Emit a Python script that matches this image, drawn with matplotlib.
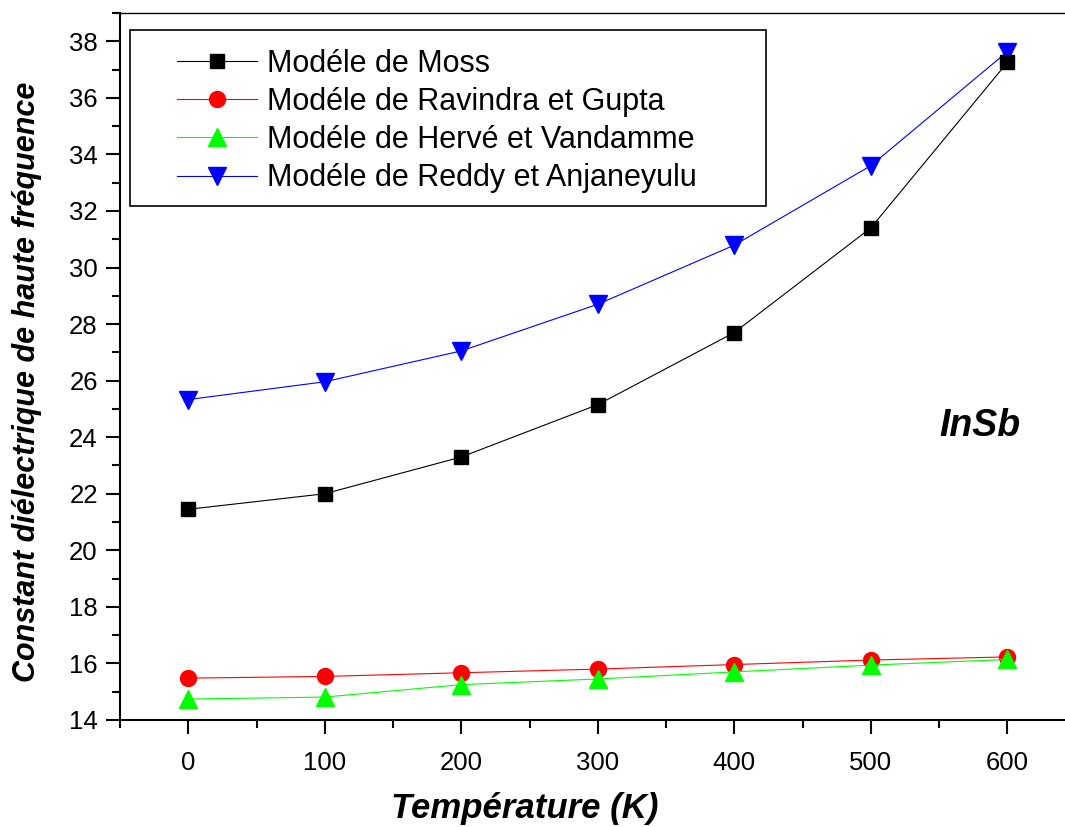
import matplotlib
matplotlib.use('Agg')
import matplotlib.pyplot as plt
from matplotlib.patches import Rectangle
from matplotlib.ticker import MultipleLocator

plt.rcParams['font.family'] = ['Liberation Sans', 'DejaVu Sans']

temperature = [0, 100, 200, 300, 400, 500, 600]
moss = [21.45, 22.0, 23.3, 25.15, 27.7, 31.4, 37.25]
ravindra_gupta = [15.48, 15.54, 15.67, 15.8, 15.96, 16.12, 16.23]
herve_vandamme = [14.74, 14.81, 15.25, 15.45, 15.7, 15.94, 16.14]
reddy_anjaneyulu = [25.33, 25.96, 27.05, 28.7, 30.79, 33.6, 37.63]

labels = ['Modéle de Moss', 'Modéle de Ravindra et Gupta',
          'Modéle de Hervé et Vandamme', 'Modéle de Reddy et Anjaneyulu']

fig = plt.figure(figsize=(10.65, 8.27), dpi=100)
ax = fig.add_axes([0.1127, 0.1294, 0.8972, 0.8549])

ax.plot(temperature, moss, color='black', lw=0.8, marker='s', ms=10,
        label=labels[0], zorder=5)
ax.plot(temperature, ravindra_gupta, color='red', lw=0.8, marker='o', ms=11.5,
        label=labels[1], zorder=3)
ax.plot(temperature, herve_vandamme, color='#00FF00', lw=0.8, marker='^', ms=13,
        label=labels[2], zorder=4)
ax.plot(temperature, reddy_anjaneyulu, color='blue', lw=0.8, marker='v', ms=13,
        label=labels[3], zorder=3)

ax.set_xlim(-50, 650)
ax.set_ylim(14, 39)
ax.xaxis.set_major_locator(MultipleLocator(100))
ax.xaxis.set_minor_locator(MultipleLocator(50))
ax.yaxis.set_major_locator(MultipleLocator(2))
ax.yaxis.set_minor_locator(MultipleLocator(1))
ax.tick_params(which='major', direction='out', length=10, width=1.5,
               labelsize=18.5, pad=6)
ax.tick_params(which='minor', direction='out', length=5.5, width=1.5)
ax.tick_params(axis='x', which='major', pad=12)
for s in ax.spines.values():
    s.set_linewidth(1.5)
ax.spines['top'].set_linewidth(1.0)

ax.set_xlabel('Température (K)', fontsize=25, fontweight='bold',
              fontstyle='italic', va='center')
ax.xaxis.set_label_coords(0.424, -0.1245)
ax.set_ylabel('Constant diélectrique de haute fréquence', fontsize=22,
              fontweight='bold', fontstyle='italic', va='center')
ax.yaxis.set_label_coords(-0.097, 0.478)

ax.text(580, 24.4, 'InSb', fontsize=27, fontweight='bold', fontstyle='italic',
        ha='center', va='center')

# legend entries without frame, box drawn separately for wider side margins
leg = ax.legend(loc='upper left', bbox_to_anchor=(0.0597, 0.9495), fontsize=22,
                frameon=False, handlelength=2.6, handletextpad=0.35,
                labelspacing=0.27, borderpad=0.0, borderaxespad=0.0)
ax.add_patch(Rectangle((0.0105, 0.727), 0.6655, 0.249, transform=ax.transAxes,
                       fill=False, edgecolor='black', lw=1.2, zorder=6))

fig.savefig('out.png', dpi=100)
